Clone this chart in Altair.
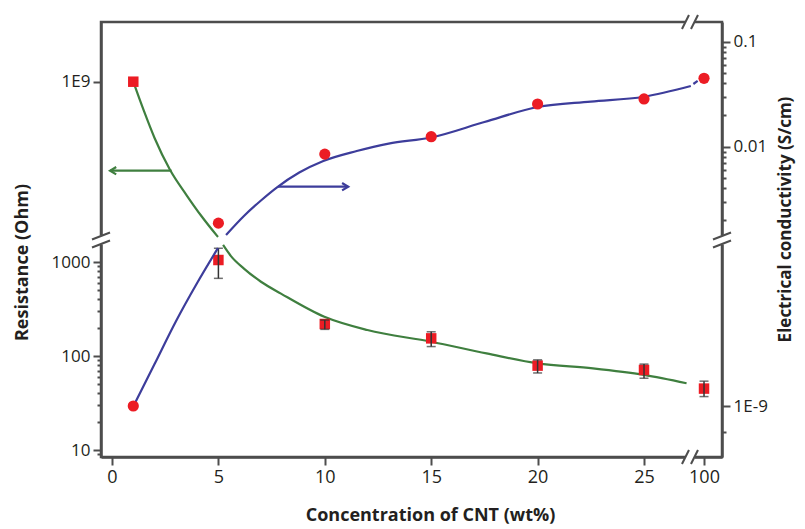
import math
import altair as alt
import pandas as pd

# ---------------- values ----------------
conc = [1, 5, 10, 15, 20, 25, 100]                      # wt% CNT
resistance = [1e9, 1050, 219, 154, 79, 71, 45]          # Ohm
res_err_lo = [None, 670, 192, 126, 66, 58, 37]
res_err_hi = [None, 1400, 241, 181, 91, 82, 54]
conductivity = [1.0e-9, 1.87e-3, 8.5e-3, 1.245e-2, 2.55e-2, 2.85e-2, 4.48e-2]  # S/cm

# fitted guide curves (x in wt%, log10 of value), split at the axis breaks
res_fit_hi_x = [1, 1.5, 2, 2.73, 3.5, 4.2, 4.98]
res_fit_hi_log = [9.0, 8.311, 7.675, 6.922, 6.334, 5.84, 5.346]
res_fit_lo_x = [5.22, 5.6, 6.2, 7.0, 7.94, 9.98, 12.0, 15.0, 17.6, 20.0, 22.6, 25.0, 27.0]
res_fit_lo_log = [3.181, 3.06, 2.93, 2.79, 2.664, 2.417, 2.276, 2.152, 2.028, 1.922, 1.869, 1.799, 1.71]
cond_fit_lo_x = [1, 2, 3, 4, 4.98]
cond_fit_lo_log = [-9.006, -8.512, -8.017, -7.57, -7.163]
cond_fit_hi_x = [5.36, 6.2, 7.0, 7.74, 8.8, 9.93, 11.5, 13.0, 15, 17.5, 20, 22.5, 25, 27.2]
cond_fit_hi_log = [-2.841, -2.66, -2.512, -2.389, -2.246, -2.136, -2.041, -1.97, -1.912,
                   -1.765, -1.622, -1.57, -1.524, -1.422]
cond_fit_end_x = [99.0, 99.4]
cond_fit_end_log = [-1.403, -1.374]

# direction arrows (x from, x to, value)
res_arrow = [2.8, -0.09, 10 ** 6.906]
cond_arrow = [7.8, 11.1, 10 ** -2.381]

# axis ticks
x_ticks = [0, 5, 10, 15, 20, 25, 100]
res_major = [10, 100, 1000, 1e9]
res_major_labels = ["10", "100", "1000", "1E9"]
res_minor = [9, 20, 30, 40, 50, 60, 70, 80, 90, 200, 300, 400, 500, 600, 700, 800, 900]
cond_major = [0.1, 0.01, 1e-9]
cond_major_labels = ["0.1", "0.01", "1E-9"]
cond_minor = [0.02, 0.03, 0.04, 0.05, 0.06, 0.07, 0.08, 0.09,
              0.002, 0.003, 0.004, 0.005, 0.006, 0.007, 0.008, 0.009, 5e-10]

# ---------------- broken-axis geometry ----------------
W, H = 621, 435
X_DOM = [-0.517, 28.665]
Y_DOM = [0, H]
X_BREAK = 27.16
Y_BREAK = 217
PXX = W / (X_DOM[1] - X_DOM[0])
PXY = H / (Y_DOM[1] - Y_DOM[0])


def xpos(c):
    return c if c <= 30 else 27.82 + 0.5 * (c - 100)


def u_res_log(lr):
    # lower segment: 1000 at 195, 94 per decade; upper segment: 1E9 at 375.3
    return 195 + 94 * (lr - 3) if lr < 4 else 375.3 + 42.5 * (lr - 9)


def u_res(r):
    return u_res_log(math.log10(r))


def u_cond_log(ls):
    # upper segment: 0.01 at 310.3, 105 per decade; lower: 1E-9 at 51
    return 310.3 + 105 * (ls + 2) if ls > -5 else 51 + 86 * (ls + 9)


def u_cond(s):
    return u_cond_log(math.log10(s))


# ---------------- tables ----------------
pts = pd.DataFrame({
    "x": [xpos(c) for c in conc],
    "ur": [u_res(r) for r in resistance],
    "uc": [u_cond(s) for s in conductivity],
})
err = pd.DataFrame({
    "x": [xpos(c) for c, lo in zip(conc, res_err_lo) if lo is not None],
    "lo": [u_res(lo) for lo in res_err_lo if lo is not None],
    "hi": [u_res(hi) for hi in res_err_hi if hi is not None],
})
res_fit = pd.DataFrame(
    [{"x": xpos(x), "u": u_res_log(l), "seg": "a"} for x, l in zip(res_fit_hi_x, res_fit_hi_log)]
    + [{"x": xpos(x), "u": u_res_log(l), "seg": "b"} for x, l in zip(res_fit_lo_x, res_fit_lo_log)]
)
cond_fit = pd.DataFrame(
    [{"x": xpos(x), "u": u_cond_log(l), "seg": "a"} for x, l in zip(cond_fit_lo_x, cond_fit_lo_log)]
    + [{"x": xpos(x), "u": u_cond_log(l), "seg": "b"} for x, l in zip(cond_fit_hi_x, cond_fit_hi_log)]
    + [{"x": xpos(x), "u": u_cond_log(l), "seg": "c"} for x, l in zip(cond_fit_end_x, cond_fit_end_log)]
)
res_arr = pd.DataFrame({"x": [res_arrow[0]], "x2": [res_arrow[1]], "u": [u_res(res_arrow[2])]})
cond_arr = pd.DataFrame({"x": [cond_arrow[0]], "x2": [cond_arrow[1]], "u": [u_cond(cond_arrow[2])]})

# break marks (white gap + two slashes) on each broken axis
brk_rows, gap_rows = [], []
for cx, cy, vertical in [(X_DOM[0], Y_BREAK, True), (X_DOM[1], Y_BREAK, True),
                         (X_BREAK, Y_DOM[0], False), (X_BREAK, Y_DOM[1], False)]:
    if vertical:
        gap_rows.append({"x": cx, "x2": cx, "y": cy - 4.5 / PXY, "y2": cy + 4.5 / PXY})
        segs = [((-9, 0.5), (9, 7.5)), ((-9, -7.5), (9, -0.5))]
    else:
        gap_rows.append({"x": cx - 5 / PXX, "x2": cx + 5 / PXX, "y": cy, "y2": cy})
        segs = [((-8, -7), (-1, 7)), ((1, -7), (8, 7))]
    for (ax, ay), (bx, by) in segs:
        brk_rows.append({"x": cx + ax / PXX, "x2": cx + bx / PXX,
                         "y": cy + ay / PXY, "y2": cy + by / PXY})
gaps = pd.DataFrame(gap_rows)
slashes = pd.DataFrame(brk_rows)

# ---------------- styling ----------------
FONT = "Open Sans"
AX_COL = "#4d4d4d"
TXT = "#231f20"
RED = "#ec1c24"
GREEN = "#3f7f3f"
BLUE = "#3d3d9b"


def tick_test(vals):
    return "||".join(f"abs(datum.value-{v!r})<1e-6" for v in vals)


def label_expr(vals, labels):
    s = "".join(f"abs(datum.value-{v!r})<1e-6?'{l}':" for v, l in zip(vals, labels))
    return s + "''"


x_vals = [xpos(c) for c in x_ticks]
x_axis = alt.Axis(values=x_vals, labelExpr=label_expr(x_vals, [str(c) for c in x_ticks]),
                  title="Concentration of CNT (wt%)", grid=False, tickSize=8,
                  labelFlush=False, labelOverlap=False, labelPadding=3, labelFontSize=18,
                  titleFontSize=18, titleX=329, titleY=58, titleBaseline="middle",
                  titleAnchor="middle")

res_major_u = [u_res(v) for v in res_major]
res_all_u = res_major_u + [u_res(v) for v in res_minor]
left_axis = alt.Axis(values=res_all_u, labelExpr=label_expr(res_major_u, res_major_labels),
                     tickSize={"condition": {"test": tick_test(res_major_u), "value": 8}, "value": 4},
                     title="Resistance (Ohm)", orient="left", grid=False,
                     labelOverlap=False, labelFlush=False, labelPadding=3, labelFontSize=17,
                     titleFontSize=18, titleAngle=270, titleX=-79, titleY=240,
                     titleBaseline="middle", titleAlign="center")

cond_major_u = [u_cond(v) for v in cond_major]
cond_all_u = cond_major_u + [u_cond(v) for v in cond_minor]
right_axis = alt.Axis(values=cond_all_u, labelExpr=label_expr(cond_major_u, cond_major_labels),
                      tickSize={"condition": {"test": tick_test(cond_major_u), "value": 8}, "value": 4},
                      title="Electrical conductivity (S/cm)", orient="right", grid=False,
                      labelOverlap=False, labelFlush=False, labelPadding=3, labelFontSize=17,
                      titleFontSize=17, titleAngle=270, titleX=63, titleY=197,
                      titleBaseline="middle", titleAlign="center")

xs = alt.Scale(domain=X_DOM, nice=False, zero=False)
ys = alt.Scale(domain=Y_DOM, nice=False, zero=False)

X = alt.X("x:Q", scale=xs, axis=x_axis)


def YL(field):
    return alt.Y(f"{field}:Q", scale=ys, axis=left_axis)


def YR(field):
    return alt.Y(f"{field}:Q", scale=ys, axis=right_axis)


arrow_head_left = "M 1 -0.6 L 0 0 L 1 0.6"
arrow_head_right = "M -1 -0.6 L 0 0 L -1 0.6"

# ---- resistance (left axis) layers ----
green_line = alt.Chart(res_fit).mark_line(color=GREEN, strokeWidth=2.2, interpolate="monotone").encode(
    x=X, y=YL("u"), detail="seg:N")
green_shaft = alt.Chart(res_arr).mark_rule(color=GREEN, strokeWidth=2.2).encode(
    x=X, x2="x2:Q", y=YL("u"))
green_head = alt.Chart(res_arr).mark_point(shape=arrow_head_left, size=150, color=GREEN,
                                           strokeWidth=2.2, filled=False, opacity=1).encode(
    x=alt.X("x2:Q", scale=xs, axis=x_axis), y=YL("u"))
squares = alt.Chart(pts).mark_square(color=RED, size=110, opacity=1).encode(x=X, y=YL("ur"))
err_rule = alt.Chart(err).mark_rule(color="#333333", strokeWidth=1.5).encode(x=X, y=YL("lo"), y2="hi:Q")
err_lo = alt.Chart(err).mark_tick(color="#333333", orient="horizontal", size=9, thickness=1.5).encode(
    x=X, y=YL("lo"))
err_hi = alt.Chart(err).mark_tick(color="#333333", orient="horizontal", size=9, thickness=1.5).encode(
    x=X, y=YL("hi"))
gap = alt.Chart(gaps).mark_rule(color="white", strokeWidth=7).encode(
    x=X, x2="x2:Q", y=YL("y"), y2="y2:Q")
slash = alt.Chart(slashes).mark_rule(color=AX_COL, strokeWidth=2).encode(
    x=X, x2="x2:Q", y=YL("y"), y2="y2:Q")

left = alt.layer(green_line, green_shaft, green_head, squares, err_rule, err_lo, err_hi, gap, slash)

# ---- conductivity (right axis) layers ----
blue_line = alt.Chart(cond_fit).mark_line(color=BLUE, strokeWidth=2.2, interpolate="monotone").encode(
    x=X, y=YR("u"), detail="seg:N")
blue_shaft = alt.Chart(cond_arr).mark_rule(color=BLUE, strokeWidth=2.2).encode(
    x=X, x2="x2:Q", y=YR("u"))
blue_head = alt.Chart(cond_arr).mark_point(shape=arrow_head_right, size=150, color=BLUE,
                                           strokeWidth=2.2, filled=False, opacity=1).encode(
    x=alt.X("x2:Q", scale=xs, axis=x_axis), y=YR("u"))
circles = alt.Chart(pts).mark_circle(color=RED, size=125, opacity=1).encode(x=X, y=YR("uc"))

right = alt.layer(blue_line, blue_shaft, blue_head, circles)

chart = alt.layer(left, right).resolve_scale(y="independent").properties(
    width=W, height=H,
    autosize=alt.AutoSizeParams(type="none"),
    padding={"left": 93, "top": 14, "right": 75, "bottom": 72},
).configure_view(
    stroke=AX_COL, strokeWidth=2.5
).configure_axis(
    domainColor=AX_COL, domainWidth=2.5, tickColor=AX_COL, tickWidth=2,
    labelFont=FONT, labelColor=TXT,
    titleFont=FONT, titleFontWeight="bold", titleColor=TXT,
)

chart.save("out.html", embed_options={"renderer": "svg", "actions": False})
